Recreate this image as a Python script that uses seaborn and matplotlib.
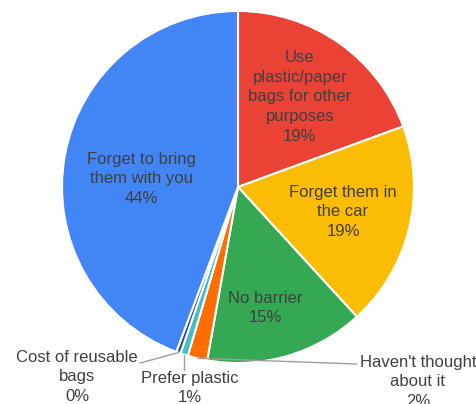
import numpy as np
import matplotlib
matplotlib.use("Agg")
import matplotlib.pyplot as plt
import seaborn as sns

# slices, clockwise from 12 o'clock
labels = ["Use\nplastic/paper\nbags for other\npurposes", "Forget them in\nthe car", "No barrier",
          "Haven't thought\nabout it", "Prefer plastic", "Cost of reusable\nbags",
          "Forget to bring\nthem with you"]
values = [19.4, 18.8, 14.6, 1.8, 0.7, 0.4, 44.3]
colors = ["#EA4335", "#FBBC04", "#34A853", "#FF6D01", "#46BDC6", "#1F45B5", "#4285F4"]

sns.set_theme(style="white")
plt.rcParams["font.family"] = ["Liberation Sans", "DejaVu Sans"]

W, H, R = 477, 404, 176
cx, cy = 238, 187

fig = plt.figure(figsize=(W / 100, H / 100), dpi=100)
ax = fig.add_axes([0, 0, 1, 1])
wedges, _ = ax.pie(values, colors=sns.color_palette(colors), startangle=90, counterclock=False,
                   wedgeprops=dict(edgecolor="white", linewidth=1.5))
ax.set_xlim(-cx / R, (W - cx) / R)
ax.set_ylim(-(H - cy) / R, cy / R)
ax.set_aspect("auto")
ax.axis("off")

total = sum(values)
pct = [f"{round(v / total * 100)}%" for v in values]

def px(x, y):
    return (x - cx) / R, (cy - y) / R

txt = dict(fontsize=12, color="#404040", ha="center", va="center", linespacing=1.38)

# inside labels (pixel centres)
inside = {0: (300, 97), 1: (343, 212), 2: (265, 308), 6: (141, 179)}
for i, (x, y) in inside.items():
    ax.text(*px(x, y), labels[i] + "\n" + pct[i], **txt)

def tip(i, r=1.0):
    w = wedges[i]
    a = np.deg2rad((w.theta1 + w.theta2) / 2)
    return r * np.cos(a), r * np.sin(a)

line = dict(color="#9e9e9e", lw=1)

# Haven't thought about it
x0, y0 = tip(3)
x1, y1 = px(357, 364)
ax.plot([x0, x1], [y0, y1], **line)
ax.text(*px(418, 382), labels[3] + "\n" + pct[3], **txt)

# Prefer plastic
x0, y0 = tip(4)
ax.plot([x0, x0], [y0, px(0, 370)[1]], **line)
ax.text(*px(190, 388), labels[4] + "\n" + pct[4], **txt)

# Cost of reusable bags
x0, y0 = tip(5)
x1, y1 = px(140, 363)
ax.plot([x0, x1], [y0, y1], **line)
ax.text(*px(77, 377), labels[5] + "\n" + pct[5], **txt)

fig.savefig("out.png", dpi=100, facecolor="white")
